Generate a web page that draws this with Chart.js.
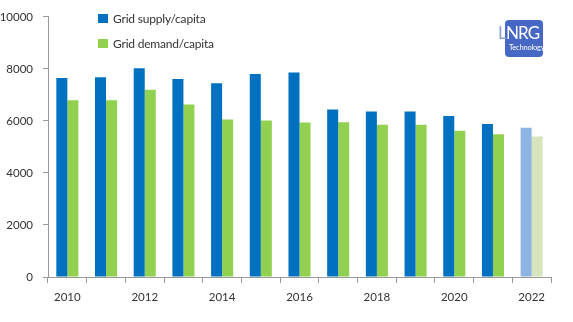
<!DOCTYPE html>
<html>
<head>
<meta charset="utf-8">
<script src="https://cdn.jsdelivr.net/npm/chart.js@4.4.0/dist/chart.umd.min.js"></script>
<style>
  html, body { margin: 0; padding: 0; background: #fff; }
  #wrap { position: relative; width: 573px; height: 322px; font-family: Lato, sans-serif; }
  .legend { position: absolute; left: 98px; font-size: 12px; color: #333; display: flex; align-items: center; letter-spacing: -0.2px; }
  .legend span.box { display: inline-block; width: 10px; height: 9px; margin-right: 5px; }
  #logo { position: absolute; left: 505px; top: 20px; width: 38px; height: 37px; background: #4668c4; border-radius: 4px; }
  #logo .big { position: absolute; left: -7px; top: 4px; font-size: 17px; color: #fff; letter-spacing: -0.8px; white-space: nowrap; line-height: 17px; }
  #logo .big b { font-weight: normal; color: #8a9fd6; }
  #logo .small { position: absolute; left: 4px; top: 23px; font-size: 7.5px; color: #fff; white-space: nowrap; letter-spacing: -0.2px; }
</style>
</head>
<body>
<div id="wrap">
  <canvas id="gridChart" width="573" height="322"></canvas>
  <div class="legend" style="top:11px"><span class="box" style="background:#0070c0"></span>Grid supply/capita</div>
  <div class="legend" style="top:36px"><span class="box" style="background:#92d050"></span>Grid demand/capita</div>
  <div id="logo"><div class="big"><b>L</b>NRG</div><div class="small">Technology</div></div>
</div>
<script>
// Data
const years = ['2010', '2011', '2012', '2013', '2014', '2015', '2016', '2017', '2018', '2019', '2020', '2021', '2022'];
const supplyPerCapita = [7650, 7680, 8030, 7610, 7450, 7800, 7860, 6440, 6360, 6360, 6190, 5880, 5740];
const demandPerCapita = [6800, 6800, 7200, 6630, 6060, 6020, 5940, 5950, 5850, 5850, 5620, 5490, 5400];
const projectedYear = '2022';

// Projected year gets the pale colours
const supplyColors = years.map(y => y === projectedYear ? '#8db4e2' : '#0070c0');
const demandColors = years.map(y => y === projectedYear ? '#d8e4bc' : '#92d050');

const ctx = document.getElementById('gridChart').getContext('2d');
const gridChart = new Chart(ctx, {
    type: 'bar',
    data: {
        labels: years,
        datasets: [{
            label: 'Grid supply/capita',
            backgroundColor: supplyColors,
            data: supplyPerCapita,
        }, {
            label: 'Grid demand/capita',
            backgroundColor: demandColors,
            data: demandPerCapita,
        }]
    },
    options: {
        responsive: false,
        animation: false,
        categoryPercentage: 0.57,
        barPercentage: 1.0,
        layout: { padding: { top: 14, right: 22, left: 0, bottom: 0 } },
        plugins: {
            legend: { display: false },
            tooltip: { enabled: false }
        },
        scales: {
            x: {
                border: { color: '#999' },
                grid: { offset: true, drawOnChartArea: false, tickLength: 6, color: '#999' },
                ticks: {
                    autoSkip: false,
                    maxRotation: 0,
                    padding: 7,
                    color: '#333',
                    font: { family: 'Lato', size: 11.5 },
                    callback: (v, i) => i % 2 === 0 ? years[i] : ''
                },
                afterFit: s => { s.height = 45; }
            },
            y: {
                min: 0,
                max: 10000,
                border: { color: '#999' },
                grid: { drawOnChartArea: false, tickLength: 5, color: '#999' },
                ticks: {
                    stepSize: 2000,
                    padding: 10,
                    color: '#333',
                    font: { family: 'Lato', size: 11.5 },
                    callback: v => String(v)
                },
                afterFit: s => { s.width = 48; }
            }
        }
    }
});
</script>
</body>
</html>
